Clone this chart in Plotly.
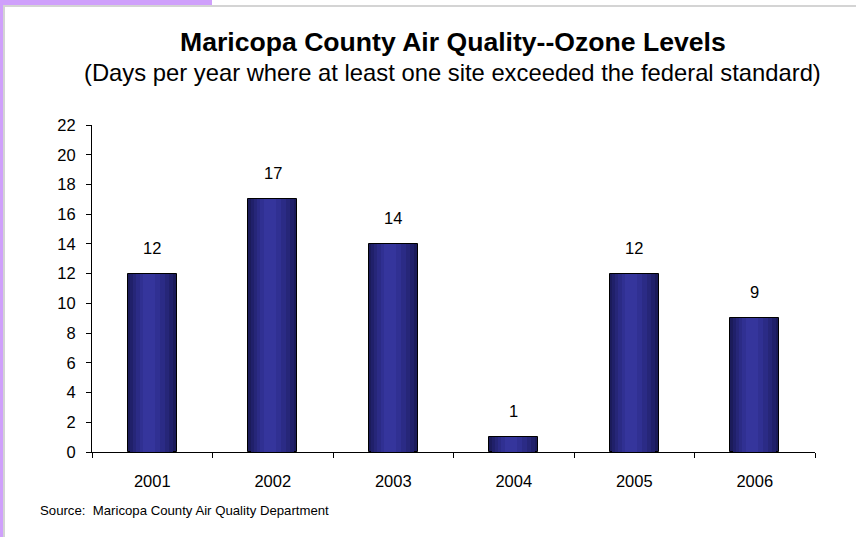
import plotly.graph_objects as go

years = ["2001", "2002", "2003", "2004", "2005", "2006"]
ozone_days = [12, 17, 14, 1, 12, 9]
y_ticks = list(range(0, 23, 2))

W, H = 856, 537
L, R, T, B = 92, 41, 125, 85
PW, PH = W - L - R, H - T - B


def px_x(x):
    return (x - L) / PW


def px_y(y):
    return (H - B - y) / PH


fig = go.Figure()

# layered bars to fake the cylinder-like shading
shades = [
    (0.41, "#1b1b5a"),
    (0.36, "#20206a"),
    (0.30, "#262678"),
    (0.24, "#2b2b86"),
    (0.17, "#303092"),
    (0.10, "#35359c"),
]
for i, (w, c) in enumerate(shades):
    fig.add_trace(go.Bar(
        x=years,
        y=ozone_days,
        width=w,
        offset=-0.205 + (0.41 - w) * 0.42,
        marker_color=c,
        marker_line_color="#000000" if i == 0 else c,
        marker_line_width=1 if i == 0 else 0,
        hoverinfo="skip" if i else "x+y",
        showlegend=False,
    ))

for i, v in enumerate(ozone_days):
    fig.add_annotation(
        x=i, y=v, text=str(v), showarrow=False, yshift=26,
        font=dict(size=16.5, color="#000000"),
    )

fig.add_annotation(
    x=px_x(453), y=px_y(42), xref="paper", yref="paper",
    xanchor="center", yanchor="middle",
    text="<b>Maricopa County Air Quality--Ozone Levels</b>",
    showarrow=False, font=dict(size=26.6, color="#000000"),
)
fig.add_annotation(
    x=px_x(452), y=px_y(72), xref="paper", yref="paper",
    xanchor="center", yanchor="middle",
    text="(Days per year where at least one site exceeded the federal standard)",
    showarrow=False, font=dict(size=23.8, color="#000000"),
)
fig.add_annotation(
    x=px_x(38), y=px_y(511), xref="paper", yref="paper",
    xanchor="left", yanchor="middle",
    text="Source:  Maricopa County Air Quality Department",
    showarrow=False, font=dict(size=13.2, color="#000000"),
)

# slide frame: lavender strips and thin gray border
frame = [
    dict(type="rect", x0=px_x(0), x1=px_x(212), y0=px_y(0), y1=px_y(5),
         fillcolor="#cfa0fb", line_width=0),
    dict(type="rect", x0=px_x(0), x1=px_x(3), y0=px_y(0), y1=px_y(H),
         fillcolor="#cfa0fb", line_width=0),
    dict(type="line", x0=px_x(3), x1=px_x(W), y0=px_y(6), y1=px_y(6),
         line=dict(color="#d4d4d4", width=2)),
    dict(type="line", x0=px_x(4), x1=px_x(4), y0=px_y(6), y1=px_y(H),
         line=dict(color="#d4d4d4", width=2)),
]
for s in frame:
    fig.add_shape(xref="paper", yref="paper", layer="above", **s)

fig.update_layout(
    barmode="overlay",
    width=W,
    height=H,
    margin=dict(l=L, r=R, t=T, b=B),
    paper_bgcolor="#ffffff",
    plot_bgcolor="#ffffff",
    font=dict(family="Liberation Sans, Arial, sans-serif", size=16.5, color="#000000"),
    bargap=0,
)
fig.update_xaxes(
    type="category", range=[-0.5, len(years) - 0.5],
    showline=True, linecolor="#000000", linewidth=1,
    ticks="outside", tickson="boundaries", ticklen=5, tickcolor="#000000",
    showgrid=False, zeroline=False,
    tickfont=dict(size=16.5), ticklabelstandoff=14,
)
fig.update_yaxes(
    range=[0, 22], tickvals=y_ticks,
    showline=True, linecolor="#000000", linewidth=1,
    ticks="outside", ticklen=5, tickcolor="#000000",
    showgrid=False, zeroline=False,
    tickfont=dict(size=16.5), ticklabelstandoff=7,
)

fig.write_html(
    "out.html",
    config={"displayModeBar": False},
    post_script="document.body.style.margin='0';",
)
